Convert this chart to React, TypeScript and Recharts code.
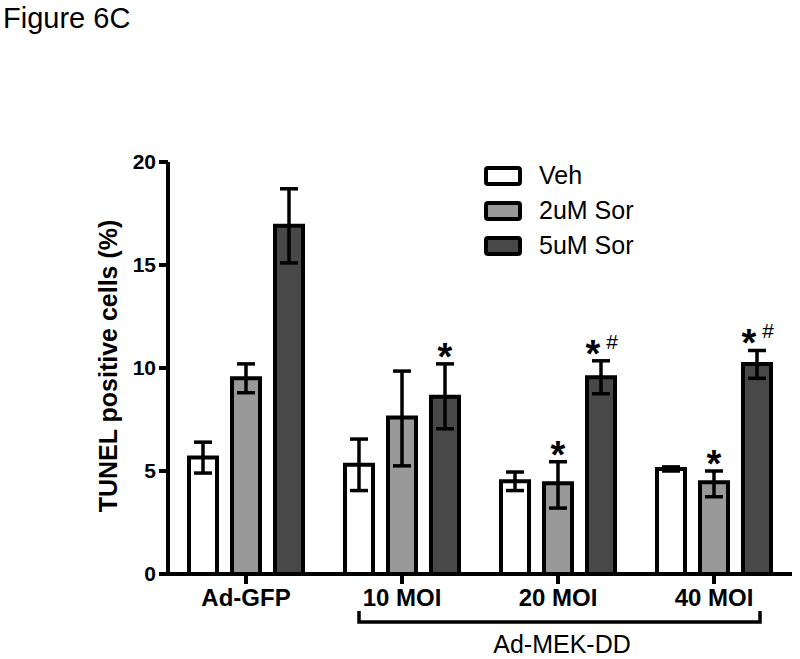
import { BarChart, Bar, XAxis, YAxis, ErrorBar, LabelList, Legend } from "recharts";

const FONT = "'Liberation Sans', Arial, sans-serif";

const categories = ["Ad-GFP", "10 MOI", "20 MOI", "40 MOI"];

const veh = [5.65, 5.3, 4.5, 5.1];
const vehLow = [4.9, 4.05, 4.05, 5.0];
const vehHigh = [6.4, 6.55, 4.95, 5.2];

const sor2 = [9.5, 7.6, 4.4, 4.45];
const sor2Low = [8.8, 5.25, 3.2, 3.75];
const sor2High = [10.2, 9.85, 5.45, 5.0];

const sor5 = [16.9, 8.6, 9.55, 10.2];
const sor5Low = [15.1, 7.05, 8.75, 9.5];
const sor5High = [18.7, 10.2, 10.35, 10.85];

const sor2Marks = ["", "", "*", "*"];
const sor5Marks = ["", "*", "*#", "*#"];

const yTicks = [0, 5, 10, 15, 20];

const SERIES = [
  { key: "veh", name: "Veh", fill: "#ffffff" },
  { key: "sor2", name: "2uM Sor", fill: "#999999" },
  { key: "sor5", name: "5uM Sor", fill: "#484848" },
];

const data = categories.map((c, i) => ({
  name: c,
  veh: veh[i],
  vehErr: [veh[i] - vehLow[i], vehHigh[i] - veh[i]],
  sor2: sor2[i],
  sor2Err: [sor2[i] - sor2Low[i], sor2High[i] - sor2[i]],
  sor2Mark: sor2Marks[i],
  sor5: sor5[i],
  sor5Err: [sor5[i] - sor5Low[i], sor5High[i] - sor5[i]],
  sor5Mark: sor5Marks[i],
}));

// star / hash drawn above the error bar cap
function makeMark(values: number[], highs: number[]) {
  return (props: any) => {
    const { x, y, width, height, value, index } = props;
    if (!value) return null;
    const bottom = y + height;
    const top = bottom - highs[index] * (height / values[index]);
    const cx = x + width / 2;
    const hasHash = value.includes("#");
    return (
      <g>
        <text
          x={hasHash ? cx - 8 : cx}
          y={top + 6}
          textAnchor="middle"
          fontFamily={FONT}
          fontWeight="bold"
          fontSize={38}
          fill="#000"
        >
          *
        </text>
        {hasHash && (
          <text x={cx + 11} y={top - 12} textAnchor="middle" fontFamily={FONT} fontSize={21} fill="#000">
            #
          </text>
        )}
      </g>
    );
  };
}

function renderLegend() {
  return (
    <div style={{ fontFamily: FONT }}>
      {SERIES.map((s) => (
        <div key={s.key} style={{ display: "flex", alignItems: "center", height: 35 }}>
          <svg width={40} height={22}>
            <rect x={2} y={3} width={34} height={16} rx={2} fill={s.fill} stroke="#000" strokeWidth={4} />
          </svg>
          <span style={{ fontSize: 25, marginLeft: 15, color: "#000" }}>{s.name}</span>
        </div>
      ))}
    </div>
  );
}

function yLabel(props: any) {
  const { viewBox } = props;
  const cx = viewBox.x + 9;
  const cy = viewBox.y + viewBox.height / 2 - 2;
  return (
    <text
      x={cx}
      y={cy}
      transform={`rotate(-90 ${cx} ${cy})`}
      textAnchor="middle"
      fontFamily={FONT}
      fontWeight="bold"
      fontSize={25}
      fill="#000"
    >
      TUNEL positive cells (%)
    </text>
  );
}

export default function App() {
  return (
    <div style={{ position: "absolute", left: 0, top: 0, width: 800, height: 659, background: "#fff" }}>
      <BarChart
        width={800}
        height={659}
        data={data}
        margin={{ top: 162, right: 8, bottom: 55, left: 108 }}
        barSize={28}
        barGap={15}
      >
        <XAxis
          dataKey="name"
          height={30}
          axisLine={{ stroke: "#000", strokeWidth: 4 }}
          tickLine={{ stroke: "#000", strokeWidth: 4 }}
          tickSize={10}
          tickMargin={5}
          tick={{ fill: "#000", fontSize: 24, fontWeight: "bold", fontFamily: FONT }}
        />
        <YAxis
          width={60}
          domain={[0, 20]}
          ticks={yTicks}
          interval={0}
          axisLine={{ stroke: "#000", strokeWidth: 4 }}
          tickLine={{ stroke: "#000", strokeWidth: 4 }}
          tickSize={9}
          tickMargin={3}
          tick={{ fill: "#000", fontSize: 21, fontWeight: "bold", fontFamily: FONT }}
          label={{ content: yLabel }}
        />
        <Legend
          layout="horizontal"
          verticalAlign="middle"
          align="center"
          content={renderLegend}
          wrapperStyle={{ position: "absolute", left: 484, top: 158, width: 220 }}
        />
        <Bar dataKey="veh" name="Veh" fill="#ffffff" stroke="#000" strokeWidth={4} isAnimationActive={false}>
          <ErrorBar dataKey="vehErr" width={9} stroke="#000" strokeWidth={3.5} />
        </Bar>
        <Bar dataKey="sor2" name="2uM Sor" fill="#999999" stroke="#000" strokeWidth={4} isAnimationActive={false}>
          <ErrorBar dataKey="sor2Err" width={9} stroke="#000" strokeWidth={3.5} />
          <LabelList dataKey="sor2Mark" content={makeMark(sor2, sor2High)} />
        </Bar>
        <Bar dataKey="sor5" name="5uM Sor" fill="#484848" stroke="#000" strokeWidth={4} isAnimationActive={false}>
          <ErrorBar dataKey="sor5Err" width={9} stroke="#000" strokeWidth={3.5} />
          <LabelList dataKey="sor5Mark" content={makeMark(sor5, sor5High)} />
        </Bar>
      </BarChart>
      <svg
        width={800}
        height={659}
        style={{ position: "absolute", left: 0, top: 0, pointerEvents: "none" }}
      >
        <text x={3} y={28} fontFamily={FONT} fontSize={29} fill="#000">
          Figure 6C
        </text>
        <path d="M359 611 V622 H760 V611" fill="none" stroke="#000" strokeWidth={3.5} />
        <text x={562} y={653} textAnchor="middle" fontFamily={FONT} fontSize={25} fill="#000">
          Ad-MEK-DD
        </text>
      </svg>
    </div>
  );
}
